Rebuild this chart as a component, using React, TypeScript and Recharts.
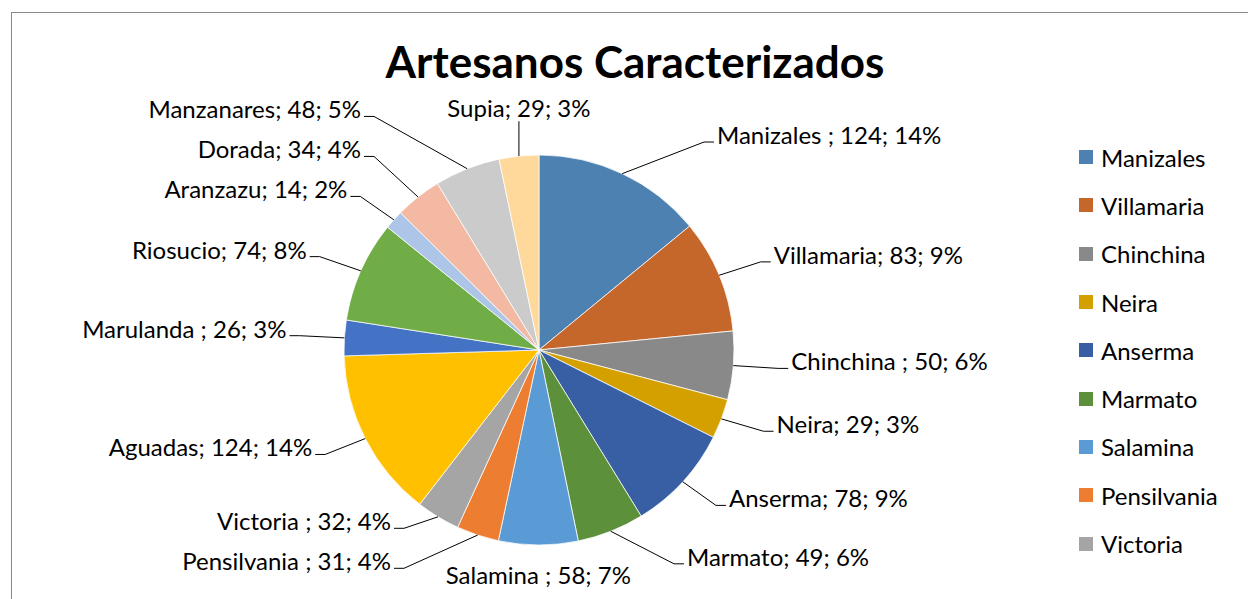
import React from 'react';
import { PieChart, Pie, Cell, Legend } from 'recharts';

const categories = [
  'Manizales ', 'Villamaria', 'Chinchina ', 'Neira', 'Anserma', 'Marmato',
  'Salamina ', 'Pensilvania ', 'Victoria ', 'Aguadas', 'Marulanda ', 'Riosucio',
  'Aranzazu', 'Dorada', 'Manzanares', 'Supia',
];
const values = [124, 83, 50, 29, 78, 49, 58, 31, 32, 124, 26, 74, 14, 34, 48, 29];
const colors = [
  '#4C81B1', '#C5672A', '#898989', '#D4A000', '#385FA3', '#5D903B',
  '#5B9BD5', '#ED7D31', '#A5A5A5', '#FFC000', '#4472C4', '#70AD47',
  '#ADC6E8', '#F4B9A3', '#CBCBCB', '#FFD89C',
];
const title = 'Artesanos Caracterizados';
const legendVisibleCount = 9;

const data = categories.map((name, i) => ({ name, value: values[i] }));
const total = values.reduce((a, b) => a + b, 0);

const CX = 539;
const CY = 350;
const R = 195;
const FONT = 'Lato, "Open Sans", sans-serif';
const LABEL_SIZE = 24;
const RAD = Math.PI / 180;

type LabelLayout = { kind: string; ex: number; ey: number };

function layoutLabels(): LabelLayout[] {
  let cum = 0;
  const items = values.map((v) => {
    const mid = 90 - (360 * (cum + v / 2)) / total;
    cum += v;
    const c = Math.cos(mid * RAD);
    const s = Math.sin(mid * RAD);
    const kind = Math.abs(c) < 0.12 ? (s > 0 ? 'top' : 'bottom') : c > 0 ? 'right' : 'left';
    const ex = CX + (R + 45) * c;
    const ey = CY - (R + 35) * s;
    return { kind, ex, ey };
  });
  const maxY = CY + R + 32;
  ['left', 'right'].forEach((side) => {
    const idx = items.map((it, i) => i).filter((i) => items[i].kind === side);
    idx.sort((a, b) => items[b].ey - items[a].ey);
    for (let k = 0; k < idx.length; k++) {
      const limit = k === 0 ? maxY : items[idx[k - 1]].ey - 40;
      if (items[idx[k]].ey > limit) items[idx[k]].ey = limit;
    }
  });
  // keep side labels clear of the labels centred above / below the pie
  items.forEach((it) => {
    if (it.kind !== 'left' && it.kind !== 'right') return;
    const dir = it.kind === 'right' ? 1 : -1;
    let clear = 0;
    if (it.ey > CY + R - 30) clear = 135;
    if (it.ey < CY - R + 15) clear = 165;
    if (Math.abs(it.ex - CX) < clear) it.ex = CX + dir * clear;
  });
  return items;
}

const layout = layoutLabels();

const renderLabel = (props: any) => {
  const { cx, cy, midAngle, outerRadius, index, value, percent, name } = props;
  const x0 = cx + outerRadius * Math.cos(-midAngle * RAD);
  const y0 = cy + outerRadius * Math.sin(-midAngle * RAD);
  const L = layout[index];
  const text = `${name}; ${value}; ${Math.round(percent * 100)}%`;
  const common = { fontFamily: FONT, fontSize: LABEL_SIZE, fill: '#000' };
  if (L.kind === 'right' || L.kind === 'left') {
    const dir = L.kind === 'right' ? 1 : -1;
    return (
      <g key={`lbl-${index}`}>
        <path
          d={`M${x0},${y0}L${L.ex},${L.ey}L${L.ex + dir * 10},${L.ey}`}
          stroke="#000"
          strokeWidth={1}
          fill="none"
        />
        <text
          x={L.ex + dir * 13}
          y={L.ey + 2}
          textAnchor={dir > 0 ? 'start' : 'end'}
          {...common}
        >
          {text}
        </text>
      </g>
    );
  }
  if (L.kind === 'top') {
    return (
      <g key={`lbl-${index}`}>
        <path d={`M${x0},${y0}L${x0},${L.ey}`} stroke="#000" strokeWidth={1} fill="none" />
        <text x={x0} y={L.ey - 4} textAnchor="middle" {...common}>
          {text}
        </text>
      </g>
    );
  }
  return (
    <g key={`lbl-${index}`}>
      <text x={x0} y={y0 + 39} textAnchor="middle" {...common}>
        {text}
      </text>
    </g>
  );
};

const renderLegend = (props: any) => {
  const sorted = [...(props.payload || [])].sort(
    (a: any, b: any) => categories.indexOf(a.value) - categories.indexOf(b.value)
  );
  const payload = sorted.slice(0, legendVisibleCount);
  return (
    <div style={{ fontFamily: FONT }}>
      {payload.map((entry: any, i: number) => (
        <div
          key={`leg-${i}`}
          style={{ display: 'flex', alignItems: 'center', height: 48.3 }}
        >
          <div
            style={{ width: 14, height: 14, background: entry.color, marginRight: 8, flexShrink: 0 }}
          />
          <span style={{ fontSize: LABEL_SIZE, color: '#000', whiteSpace: 'nowrap' }}>
            {String(entry.value).trim()}
          </span>
        </div>
      ))}
    </div>
  );
};

export default function App() {
  return (
    <div
      style={{
        position: 'absolute',
        left: 0,
        top: 0,
        width: 1248,
        height: 599,
        overflow: 'hidden',
        background: '#fff',
      }}
    >
      <div
        style={{
          position: 'absolute',
          left: 11,
          top: 12,
          width: 1400,
          height: 800,
          borderTop: '1px solid #8a8a8a',
          borderLeft: '1px solid #8a8a8a',
        }}
      />
      <div
        style={{
          position: 'absolute',
          left: 0,
          top: 39,
          width: 1270,
          textAlign: 'center',
          fontFamily: FONT,
          fontWeight: 700,
          fontSize: 44,
          lineHeight: '44px',
          color: '#000',
        }}
      >
        {title}
      </div>
      <div style={{ position: 'absolute', left: 0, top: 0 }}>
        <PieChart width={1248} height={599} margin={{ top: 0, right: 0, bottom: 0, left: 0 }}>
          <Pie
            data={data}
            dataKey="value"
            nameKey="name"
            cx={CX}
            cy={CY}
            outerRadius={R}
            startAngle={90}
            endAngle={-270}
            stroke="#ffffff"
            strokeWidth={0.75}
            label={renderLabel}
            labelLine={false}
            isAnimationActive={false}
          >
            {data.map((d, i) => (
              <Cell key={`cell-${i}`} fill={colors[i]} />
            ))}
          </Pie>
          <Legend
            layout="vertical"
            align="right"
            verticalAlign="top"
            content={renderLegend}
            wrapperStyle={{ position: 'absolute', left: 1079, top: 133, width: 165 }}
          />
        </PieChart>
      </div>
    </div>
  );
}
